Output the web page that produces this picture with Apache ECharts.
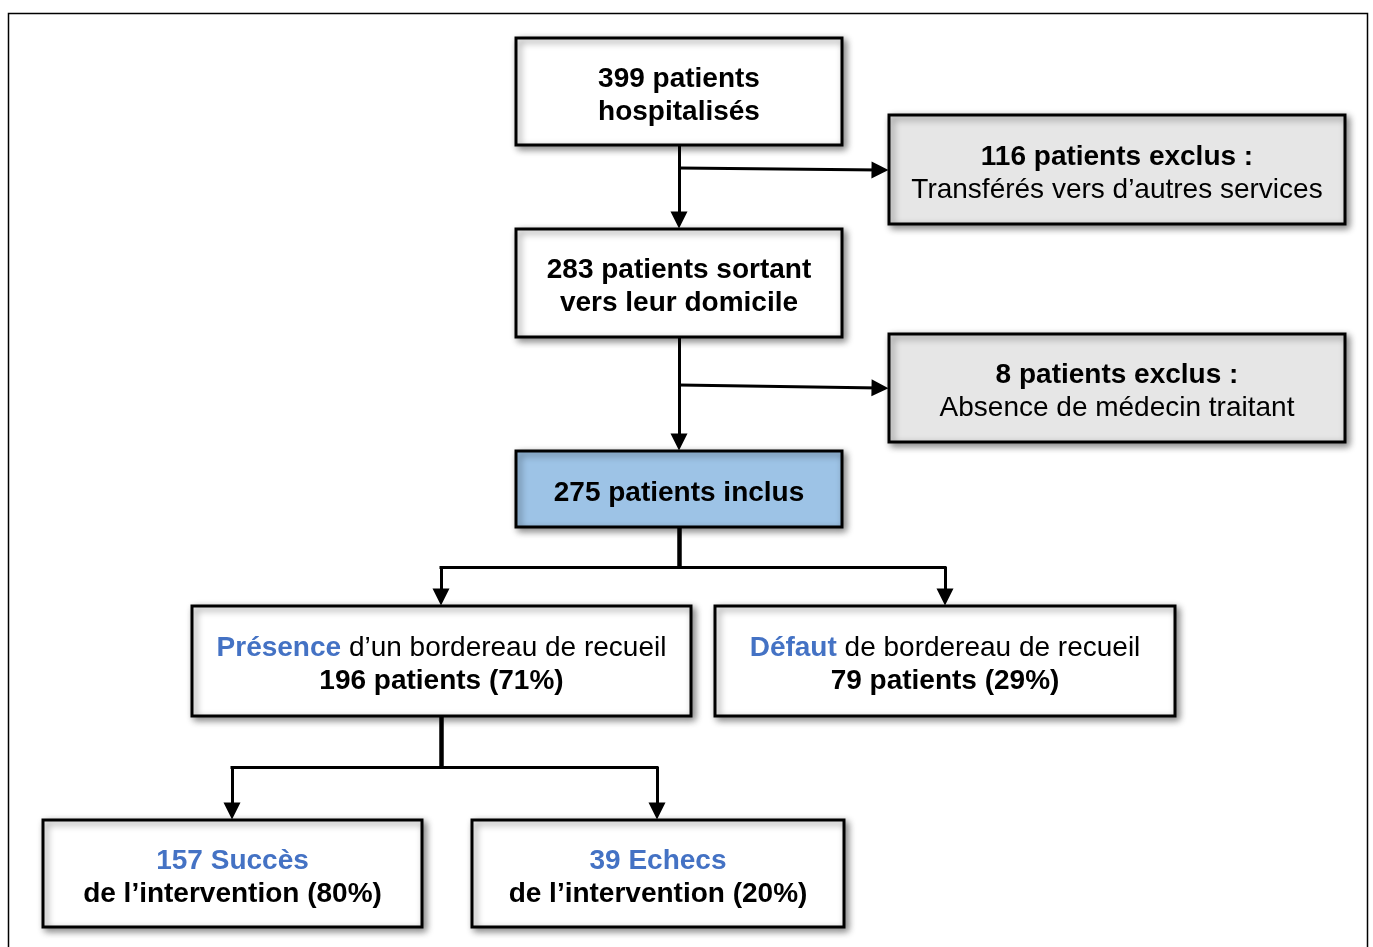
<!DOCTYPE html>
<html>
<head>
<meta charset="utf-8">
<script src="https://cdn.jsdelivr.net/npm/echarts@6/dist/echarts.min.js"></script>
<style>
  html, body { margin: 0; padding: 0; background: #ffffff; }
  #main { width: 1373px; height: 947px; }
</style>
</head>
<body>
<div id="main"></div>
<script>
// données du diagramme de flux
var stepCounts = [399, 116, 283, 8, 275, 196, 79, 157, 39];
var stepShares = [null, null, null, null, null, 71, 29, 80, 20];
var stepKinds = ['main', 'excl', 'main', 'excl', 'incl', 'main', 'main', 'main', 'main'];

// placement des boîtes (x0, y0, x1, y1)
var boxX0 = [516, 889, 516, 889, 516, 192, 715, 43, 472];
var boxX1 = [842, 1345, 842, 1345, 842, 691, 1175, 422, 844];
var boxY0 = [38, 115, 229, 334, 451, 606, 606, 820, 820];
var boxY1 = [145, 224, 337, 442, 527, 716, 716, 927, 927];

// connecteurs : troncs sans flèche, puis segments fléchés
var stems = [
    [[679, 525], [679, 567]],
    [[441, 714], [441, 767]]
];
var joins = [
    [[441, 567], [945, 567]],
    [[232, 767], [657, 767]]
];
var arrows = [
    [[679, 145], [679, 220]],
    [[679, 168], [880, 170]],
    [[679, 337], [679, 442]],
    [[679, 385], [880, 388]],
    [[441, 567], [441, 597]],
    [[945, 567], [945, 597]],
    [[232, 767], [232, 811]],
    [[657, 767], [657, 811]]
];

var myChart = echarts.init(document.getElementById('main'));

function boxText(i) {
    var n = stepCounts[i];
    switch (i) {
        case 0: return '{b|' + n + ' patients}\n{b|hospitalisés}';
        case 1: return '{b|' + n + ' patients exclus :}\n{r|Transférés vers d\u2019autres services}';
        case 2: return '{b|' + n + ' patients sortant}\n{b|vers leur domicile}';
        case 3: return '{b|' + n + ' patients exclus :}\n{r|Absence de médecin traitant}';
        case 4: return '{b|' + n + ' patients inclus}';
        case 5: return '{c|Présence}{r| d\u2019un bordereau de recueil}\n{b|' + n + ' patients (' + stepShares[i] + '%)}';
        case 6: return '{c|Défaut}{r| de bordereau de recueil}\n{b|' + n + ' patients (' + stepShares[i] + '%)}';
        case 7: return '{c|' + n + ' Succès}\n{b|de l\u2019intervention (' + stepShares[i] + '%)}';
        case 8: return '{c|' + n + ' Echecs}\n{b|de l\u2019intervention (' + stepShares[i] + '%)}';
    }
    return '';
}

var fillColors = { main: '#ffffff', excl: '#e6e6e6', incl: '#9dc3e6' };
var fontFam = '"Liberation Sans", Arial, sans-serif';
var rich = {
    b: { fontFamily: fontFam, fontWeight: 'bold', fontSize: 28, lineHeight: 33, fill: '#000000' },
    r: { fontFamily: fontFam, fontWeight: 'normal', fontSize: 28, lineHeight: 33, fill: '#000000' },
    c: { fontFamily: fontFam, fontWeight: 'bold', fontSize: 28, lineHeight: 33, fill: '#4472c4' }
};

var boxData = stepCounts.map(function (v, i) {
    return [boxX0[i], boxY0[i], boxX1[i], boxY1[i], i];
});

function toLines(list) {
    return list.map(function (c) { return { coords: c }; });
}

option = {
    backgroundColor: '#ffffff',
    animation: false,
    grid: { left: 0, right: 0, top: 0, bottom: 0 },
    xAxis: { type: 'value', min: 0, max: 1373, show: false },
    yAxis: { type: 'value', min: 0, max: 947, inverse: true, show: false },
    graphic: [{
        type: 'rect',
        shape: { x: 8.5, y: 13.5, width: 1359, height: 960 },
        style: { fill: 'none', stroke: '#000000', lineWidth: 1.5 },
        silent: true
    }],
    series: [{
        type: 'lines',
        coordinateSystem: 'cartesian2d',
        symbol: 'none',
        lineStyle: { color: '#000000', width: 4.5, opacity: 1 },
        data: toLines(stems),
        z: 1
    }, {
        type: 'lines',
        coordinateSystem: 'cartesian2d',
        symbol: 'none',
        lineStyle: { color: '#000000', width: 3, opacity: 1, cap: 'square' },
        data: toLines(joins),
        z: 1
    }, {
        type: 'lines',
        coordinateSystem: 'cartesian2d',
        symbol: ['none', 'triangle'],
        symbolSize: [13, 17],
        lineStyle: { color: '#000000', width: 3, opacity: 1 },
        data: toLines(arrows),
        z: 1
    }, {
        type: 'custom',
        coordinateSystem: 'cartesian2d',
        data: boxData,
        renderItem: function (params, api) {
            var p0 = api.coord([api.value(0), api.value(1)]);
            var p1 = api.coord([api.value(2), api.value(3)]);
            var i = api.value(4);
            return {
                type: 'group',
                children: [{
                    type: 'rect',
                    shape: { x: p0[0], y: p0[1], width: p1[0] - p0[0], height: p1[1] - p0[1] },
                    style: {
                        fill: fillColors[stepKinds[i]],
                        stroke: '#000000',
                        lineWidth: 3,
                        shadowBlur: 7,
                        shadowOffsetX: 3,
                        shadowOffsetY: 3,
                        shadowColor: 'rgba(0,0,0,0.45)'
                    }
                }, {
                    type: 'text',
                    style: {
                        x: (p0[0] + p1[0]) / 2,
                        y: (p0[1] + p1[1]) / 2 + 4,
                        text: boxText(i),
                        rich: rich,
                        align: 'center',
                        verticalAlign: 'middle'
                    }
                }]
            };
        },
        z: 2
    }]
};

myChart.setOption(option);
</script>
</body>
</html>
